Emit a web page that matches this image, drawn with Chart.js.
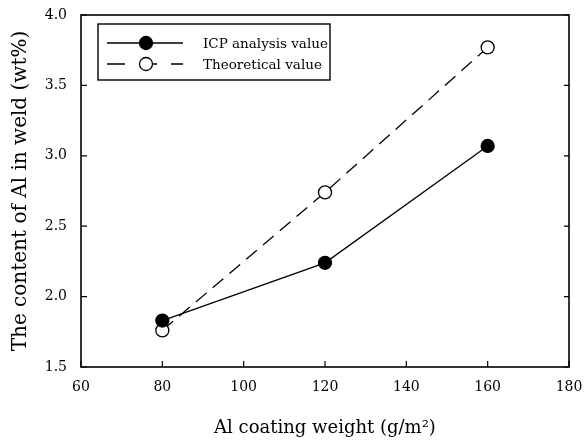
<!DOCTYPE html>
<html>
<head>
<meta charset="utf-8">
<script src="https://cdn.jsdelivr.net/npm/chart.js@4.4.1/dist/chart.umd.min.js"></script>
<style>
  html, body { margin: 0; padding: 0; background: #fff; }
  #wrap { width: 588px; height: 442px; }
</style>
</head>
<body>
<div id="wrap"><canvas id="c" width="588" height="442"></canvas></div>
<script>
// data
const coatingWeight = [80, 120, 160];
const icpValues = [1.83, 2.24, 3.07];
const theoreticalValues = [1.76, 2.74, 3.77];
const xTicks = [60, 80, 100, 120, 140, 160, 180];
const yTicks = [1.5, 2.0, 2.5, 3.0, 3.5, 4.0];

const serif = "'DejaVu Serif', 'Liberation Serif', serif";

// frame, inward ticks and the legend box
const framePlugin = {
  id: 'frame',
  afterDraw(chart) {
    const { ctx, chartArea: a, scales } = chart;
    ctx.save();
    ctx.strokeStyle = '#000';
    ctx.lineWidth = 1.6;
    ctx.strokeRect(a.left, a.top, a.right - a.left, a.bottom - a.top);
    ctx.lineWidth = 1.2;
    ctx.beginPath();
    yTicks.forEach(v => {
      const y = scales.y.getPixelForValue(v);
      ctx.moveTo(a.left, y); ctx.lineTo(a.left + 6, y);
      ctx.moveTo(a.right, y); ctx.lineTo(a.right - 5, y);
    });
    xTicks.forEach(v => {
      const x = scales.x.getPixelForValue(v);
      ctx.moveTo(x, a.bottom); ctx.lineTo(x, a.bottom - 6);
    });
    ctx.stroke();

    // legend
    const lx = 98, ly = 24, lw = 232, lh = 56;
    ctx.lineWidth = 1.4;
    ctx.strokeRect(lx, ly, lw, lh);
    const rows = [
      { label: 'ICP analysis value', dash: [], fill: '#000', y: ly + 19 },
      { label: 'Theoretical value', dash: [18, 14], fill: '#fff', y: ly + 40 }
    ];
    rows.forEach(r => {
      ctx.lineWidth = 1.3;
      ctx.setLineDash(r.dash);
      ctx.beginPath();
      ctx.moveTo(107, r.y); ctx.lineTo(183, r.y);
      ctx.stroke();
      ctx.setLineDash([]);
      ctx.beginPath();
      ctx.arc(146, r.y, 6.5, 0, Math.PI * 2);
      ctx.fillStyle = r.fill;
      ctx.fill();
      ctx.stroke();
      ctx.fillStyle = '#000';
      ctx.font = '13.5px ' + serif;
      ctx.textBaseline = 'middle';
      ctx.fillText(r.label, 203, r.y + 1);
    });
    ctx.restore();
  }
};

new Chart(document.getElementById('c'), {
  type: 'scatter',
  data: {
    datasets: [
      {
        label: 'ICP analysis value',
        data: coatingWeight.map((x, i) => ({ x: x, y: icpValues[i] })),
        showLine: true,
        borderColor: '#000',
        borderWidth: 1.3,
        pointRadius: 6.5,
        pointBackgroundColor: '#000',
        pointBorderColor: '#000',
        pointBorderWidth: 1.3
      },
      {
        label: 'Theoretical value',
        data: coatingWeight.map((x, i) => ({ x: x, y: theoreticalValues[i] })),
        showLine: true,
        borderColor: '#000',
        borderWidth: 1.3,
        borderDash: [14, 8],
        pointRadius: 6.5,
        pointBackgroundColor: '#fff',
        pointBorderColor: '#000',
        pointBorderWidth: 1.3
      }
    ]
  },
  options: {
    responsive: false,
    animation: false,
    layout: { padding: { top: 15, right: 19, left: 0, bottom: 0 } },
    plugins: { legend: { display: false }, tooltip: { enabled: false } },
    scales: {
      x: {
        type: 'linear',
        min: 60, max: 180,
        afterBuildTicks(s) { s.ticks = xTicks.map(v => ({ value: v })); },
        afterFit(s) { s.height = 75; s.paddingLeft = 0; s.paddingRight = 0; },
        grid: { display: false, drawTicks: false },
        border: { display: false },
        ticks: { color: '#000', padding: 12, font: { family: serif, size: 14 } },
        title: { display: true, text: 'Al coating weight (g/m²)', color: '#000',
                 padding: { top: 0, bottom: 3 }, font: { family: serif, size: 18 } }
      },
      y: {
        type: 'linear',
        min: 1.5, max: 4.0,
        afterBuildTicks(s) { s.ticks = yTicks.map(v => ({ value: v })); },
        afterFit(s) { s.width = 81; s.paddingTop = 0; s.paddingBottom = 0; },
        grid: { display: false, drawTicks: false },
        border: { display: false },
        ticks: { color: '#000', padding: 14, font: { family: serif, size: 14 },
                 callback: v => v.toFixed(1) },
        title: { display: true, text: 'The content of Al in weld (wt%)', color: '#000',
                 padding: { top: 9, bottom: 0 }, font: { family: serif, size: 20 } }
      }
    }
  },
  plugins: [framePlugin]
});
</script>
</body>
</html>
